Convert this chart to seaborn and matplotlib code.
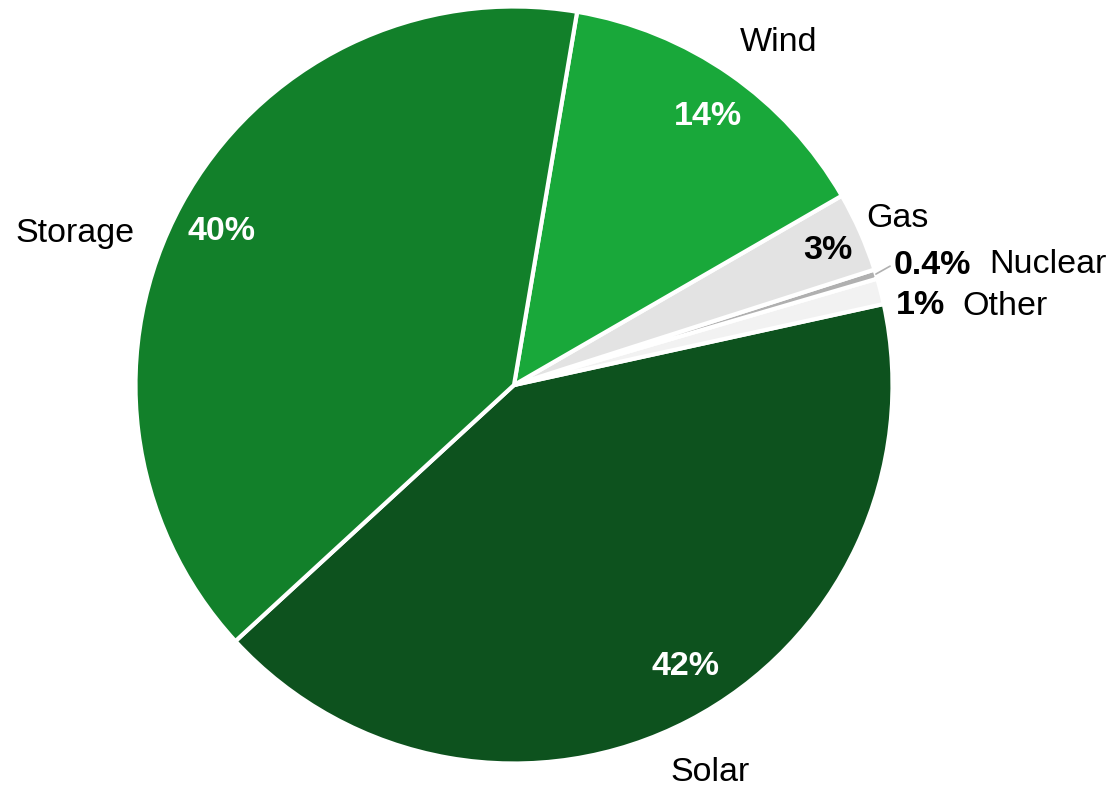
import numpy as np
import matplotlib
matplotlib.use("Agg")
import matplotlib.pyplot as plt
import seaborn as sns

# ---- data (drawing order, counter-clockwise) ----
sources = ["Solar", "Other", "Nuclear", "Gas", "Wind", "Storage"]
shares = [41.6, 1.1, 0.4, 3.4, 14.0, 39.5]
pct_labels = ["42%", "1%", "0.4%", "3%", "14%", "40%"]

colors = ["#0d521e", "#f2f2f2", "#b0b0b0", "#e3e3e3", "#19a83a", "#12802a"]
pct_colors = ["white", "black", "black", "black", "white", "white"]

sns.set_theme(style="white")
plt.rcParams["font.family"] = ["Liberation Sans", "DejaVu Sans"]

W, H = 1112, 786
fig = plt.figure(figsize=(W / 100, H / 100), dpi=100)
ax = fig.add_axes([0, 0, 1, 1])
ax.set_xlim(0, W)
ax.set_ylim(0, H)
ax.set_aspect("equal")
ax.axis("off")

cx, cy, R = 514, 401, 378.5
wedges, _ = ax.pie(shares, colors=colors, startangle=222.6, counterclock=True,
                   center=(cx, cy), radius=R,
                   wedgeprops=dict(edgecolor="white", linewidth=3))
ax.set_xlim(0, W)
ax.set_ylim(0, H)

# label placement: (angle offset from wedge middle in degrees, radius factor, ha)
name_place = {
    "Solar": (-0.4, 1.14, "center"),
    "Other": (-4.1, 1.205, "left"),
    "Nuclear": (-2.5, 1.297, "left"),
    "Gas": (0.0, 1.108, "center"),
    "Wind": (-2.7, 1.15, "center"),
    "Storage": (9.1, 1.229, "center"),
}
pct_place = {
    "Solar": (4.2, 0.865, "center"),
    "Other": (-2.1, 1.033, "left"),
    "Nuclear": (0.9, 1.055, "left"),
    "Gas": (-0.2, 0.904, "center"),
    "Wind": (-0.7, 0.882, "center"),
    "Storage": (0.4, 0.877, "center"),
}
text_dy = -3


def polar(theta_deg, rf):
    t = np.deg2rad(theta_deg)
    return cx + rf * R * np.cos(t), cy + rf * R * np.sin(t)


fs = 24.5
for w, name, pl, pc in zip(wedges, sources, pct_labels, pct_colors):
    mid = (w.theta1 + w.theta2) / 2
    da, rf, ha = name_place[name]
    x, y = polar(mid + da, rf)
    ax.text(x, y + text_dy, name, ha=ha, va="center", fontsize=fs, color="black")
    da, rf, ha = pct_place[name]
    x, y = polar(mid + da, rf)
    ax.text(x, y + text_dy, pl, ha=ha, va="center", fontsize=fs,
            fontweight="bold", color=pc)
    if name == "Nuclear":
        x0, y0 = polar(mid, 1.0)
        x1, y1 = polar(mid + 0.5, 1.042)
        ax.plot([x0, x1], [y0, y1], color="#b0b0b0", lw=1.2)

fig.savefig("out.png", dpi=100)
